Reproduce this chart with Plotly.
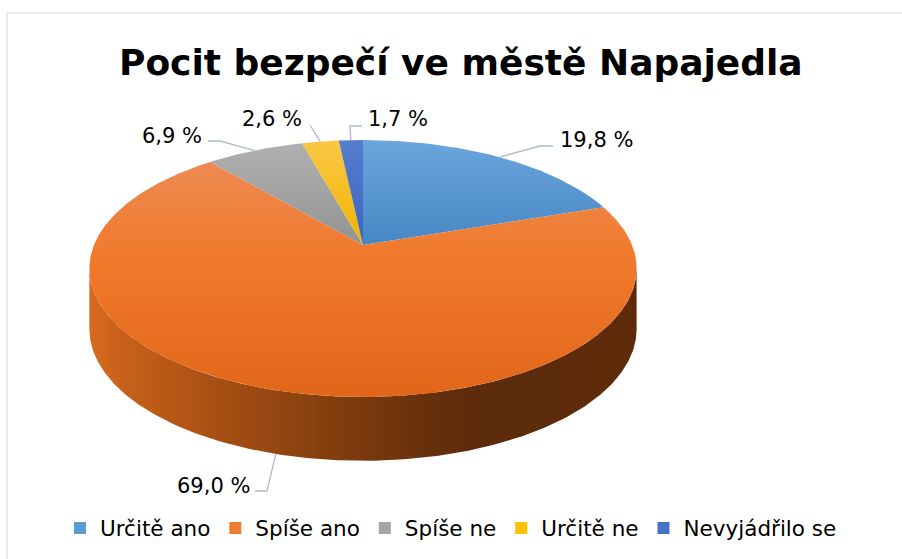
import numpy as np
import plotly.graph_objects as go

# ---- data ----
categories = ["Určitě ano", "Spíše ano", "Spíše ne", "Určitě ne", "Nevyjádřilo se"]
values = [19.8, 69.0, 6.9, 2.6, 1.7]
title_text = "Pocit bezpečí ve městě Napajedla"

# ---- styles ----
base_colors = ["#5B9BD5", "#ED7D31", "#A5A5A5", "#FFC000", "#4472C4"]
top_gradients = [
    [[0, "#6BA6DD"], [1, "#4787C5"]],
    [[0, "#EE8A52"], [0.4, "#F07A2C"], [1, "#E2661A"]],
    [[0, "#B0B0B0"], [1, "#939393"]],
    [[0, "#FAC746"], [1, "#F0B400"]],
    [[0, "#557CCE"], [1, "#3C65BD"]],
]
side_gradient = [[0, "#D86A1E"], [0.06, "#C8611A"], [0.22, "#AA5014"], [0.42, "#86400F"],
                 [0.62, "#66300C"], [0.72, "#5C2B0B"], [1, "#5E2C0B"]]
FONT = "DejaVu Sans"
LEADER = "#AEBBCB"

# 3D pie geometry (pixel space)
CX, CY, A, B, K, H = 363.0, 245.0, 269.0, 124.2, 0.1829, 60.0

# label placement (layout): leader bend points and text anchor
label_layout = [
    dict(pts=[(540, 146), (553, 146)], x=558, y=140, xanchor="left"),
    dict(pts=[(267, 491), (255, 491)], x=252, y=486, xanchor="right"),
    dict(pts=[(220, 141), (208, 141)], x=204, y=136, xanchor="right"),
    dict(pts=[(310, 125)], x=304, y=119, xanchor="right"),
    dict(pts=[(350, 126), (362, 126)], x=366, y=119, xanchor="left"),
]


def proj(phi_deg, depth=0.0):
    p = np.radians(phi_deg)
    u, v = np.sin(p), np.cos(p)
    w = 1 + K * v
    x = CX + A * u / w
    y = CY - B * v / w + depth * H * (1 / w) ** 0.3
    return x, y


total = sum(values)
bounds = np.concatenate([[0], np.cumsum(values) / total * 360.0])

fig = go.Figure()

# side wall (visible front part, belongs to the big slice)
s_lo = 90 + np.degrees(np.arcsin(K))
s_hi = 270 - np.degrees(np.arcsin(K))
for i in range(len(values)):
    a0, a1 = max(bounds[i], s_lo), min(bounds[i + 1], s_hi)
    if a1 <= a0:
        continue
    ph = np.linspace(a0, a1, 300)
    xt, yt = proj(ph)
    xb, yb = proj(ph[::-1], 1.0)
    xs = np.concatenate([xt, xb, xt[:1]])
    ys = np.concatenate([yt, yb, yt[:1]])
    fig.add_trace(go.Scatter(
        x=xs, y=ys, mode="lines", fill="toself", line=dict(width=0),
        fillgradient=dict(type="horizontal", colorscale=side_gradient,
                          start=float(xs.min()), stop=float(xs.max())),
        showlegend=False, hoverinfo="skip"))

# top faces
for i in range(len(values)):
    n = max(int((bounds[i + 1] - bounds[i]) * 2), 8)
    ph = np.linspace(bounds[i], bounds[i + 1], n)
    xa, ya = proj(ph)
    xs = np.concatenate([[CX], xa, [CX]])
    ys = np.concatenate([[CY], ya, [CY]])
    fig.add_trace(go.Scatter(
        x=xs, y=ys, mode="lines", fill="toself", line=dict(width=0),
        fillgradient=dict(type="vertical", colorscale=top_gradients[i],
                          start=float(ys.min()), stop=float(ys.max())),
        showlegend=False, hoverinfo="skip"))

# data labels with leader lines
annotations = []
for i, v in enumerate(values):
    mid = (bounds[i] + bounds[i + 1]) / 2
    front = abs(mid - 180) < 90
    sx, sy = proj(mid, 1.0 if front else 0.0)
    lx = [float(sx)] + [p[0] for p in label_layout[i]["pts"]]
    ly = [float(sy)] + [p[1] for p in label_layout[i]["pts"]]
    fig.add_trace(go.Scatter(x=lx, y=ly, mode="lines",
                             line=dict(color=LEADER, width=1.3),
                             showlegend=False, hoverinfo="skip"))
    annotations.append(dict(
        x=label_layout[i]["x"], y=label_layout[i]["y"], xref="x", yref="y",
        text=f"{v:.1f} %".replace(".", ","), showarrow=False,
        xanchor=label_layout[i]["xanchor"], yanchor="middle",
        font=dict(family=FONT, size=21, color="#000000")))

# legend entries
for name, col in zip(categories, base_colors):
    fig.add_trace(go.Scatter(x=[None], y=[None], mode="markers", name=name,
                             marker=dict(symbol="square", size=12, color=col),
                             hoverinfo="skip"))

annotations.append(dict(
    x=461, y=62, xref="x", yref="y", text=f"<b>{title_text}</b>", showarrow=False,
    xanchor="center", yanchor="middle",
    font=dict(family=FONT, size=36, color="#000000")))

fig.update_layout(
    width=902, height=559,
    margin=dict(l=0, r=0, t=0, b=0),
    paper_bgcolor="white", plot_bgcolor="white",
    xaxis=dict(range=[0, 902], visible=False, fixedrange=True),
    yaxis=dict(range=[559, 0], visible=False, fixedrange=True),
    annotations=annotations,
    shapes=[dict(type="rect", xref="x", yref="y", x0=7, y0=13, x1=915, y1=575,
                 line=dict(color="#D9D9D9", width=1), layer="below")],
    legend=dict(orientation="h", x=0.5, xanchor="center", y=1 - 528 / 559,
                yanchor="middle", font=dict(family=FONT, size=21.5, color="#000000"),
                itemwidth=30, bgcolor="rgba(0,0,0,0)"),
    showlegend=True,
)

fig.write_html("out.html", config={"displayModeBar": False},
               post_script="document.body.style.margin='0';document.body.style.overflow='hidden';")
